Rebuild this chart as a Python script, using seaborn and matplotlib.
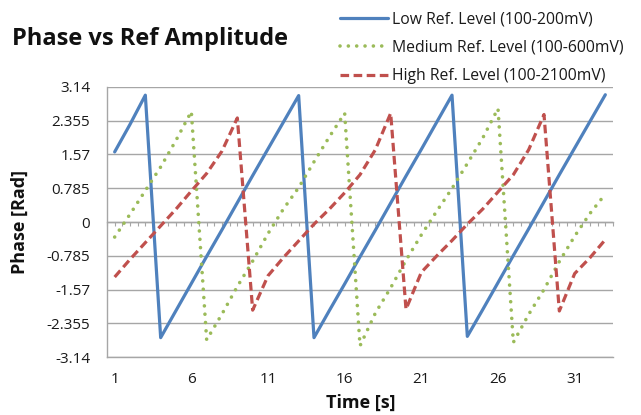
import matplotlib
matplotlib.use("Agg")
import numpy as np
import pandas as pd
import matplotlib.pyplot as plt
import seaborn as sns

# Measured phase (rad) per second for three reference amplitude ranges
time_s = list(range(1, 34))
low_ref = [1.63, 2.27, 2.95, -2.69, -2.06, -1.43, -0.80, -0.18, 0.45, 1.08, 1.70,
           2.32, 2.94, -2.69, -2.06, -1.44, -0.81, -0.19, 0.44, 1.07, 1.69, 2.32,
           2.95, -2.66, -2.04, -1.41, -0.78, -0.16, 0.47, 1.10, 1.72, 2.34, 2.96]
medium_ref = [-0.35, 0.18, 0.73, 1.28, 1.90, 2.57, -2.74, -2.14, -1.50, -0.91, -0.27,
              0.30, 0.80, 1.40, 1.98, 2.53, -2.88, -2.12, -1.53, -0.89, -0.30, 0.25,
              0.78, 1.36, 1.95, 2.64, -2.80, -2.15, -1.57, -0.92, -0.33, 0.20, 0.65]
high_ref = [-1.28, -0.87, -0.48, -0.09, 0.30, 0.72, 1.13, 1.65, 2.42, -2.05, -1.25,
            -0.83, -0.44, -0.05, 0.30, 0.68, 1.10, 1.68, 2.53, -2.03, -1.17, -0.79,
            -0.43, -0.05, 0.30, 0.70, 1.10, 1.68, 2.50, -2.07, -1.20, -0.83, -0.41]

series_names = ["Low Ref. Level (100-200mV)",
                "Medium Ref. Level (100-600mV)",
                "High Ref. Level (100-2100mV)"]
y_ticks = [3.14, 2.355, 1.57, 0.785, 0, -0.785, -1.57, -2.355, -3.14]
y_tick_labels = ["3.14", "2.355", "1.57", "0.785", "0",
                 "-0.785", "-1.57", "-2.355", "-3.14"]
x_ticks = [1, 6, 11, 16, 21, 26, 31]

sns.set_theme(style="white")
plt.rcParams['font.family'] = ['Open Sans', 'DejaVu Sans']

W, H = 641, 415
fig = plt.figure(figsize=(W / 100, H / 100), dpi=100)
left, right, top, bottom = 107, 613, 87, 357
ax = fig.add_axes([left / W, 1 - bottom / H, (right - left) / W, (bottom - top) / H])

df = pd.DataFrame({
    "Time": time_s * 3,
    "Phase": low_ref + medium_ref + high_ref,
    "Series": [name for name in series_names for _ in time_s],
})
palette = dict(zip(series_names, ["#4F81BD", "#9BBB59", "#C0504D"]))
dashes = dict(zip(series_names, ["", (0.01, 2.3), (2.7, 1.4)]))

sns.lineplot(data=df, x="Time", y="Phase", hue="Series", style="Series",
             hue_order=series_names, style_order=series_names,
             palette=palette, dashes=dashes, linewidth=2.3, ax=ax, legend=False)

series_lines = ax.lines[:3]
series_lines[0].set_solid_capstyle('round')
series_lines[1].set_dash_capstyle('round')
series_lines[1].set_linewidth(2.6)
series_lines[2].set_dash_capstyle('butt')

ax.set_xlim(0.5, 33.5)
ax.set_ylim(-3.14, 3.14)
ax.set_yticks(y_ticks)
ax.set_yticklabels(y_tick_labels)
ax.set_xticks(x_ticks)
ax.set_xticklabels([str(t) for t in x_ticks])
ax.tick_params(axis='both', length=0, labelsize=11, colors='#1a1a1a')
ax.tick_params(axis='y', pad=12)
ax.tick_params(axis='x', pad=11)

ax.grid(axis='y', color='#A6A6A6', linewidth=1)
ax.grid(axis='x', visible=False)
for side in ('top', 'right'):
    ax.spines[side].set_visible(False)
for side in ('left', 'bottom'):
    ax.spines[side].set_color('#A6A6A6')
    ax.spines[side].set_linewidth(1)

# Category axis crossing at zero, with small tick marks between categories
cat_axis = ax.secondary_xaxis(0.5)
cat_axis.set_xticks(np.arange(0.5, 33.6, 0.5))
cat_axis.tick_params(axis='x', direction='in', length=3, width=0.8,
                     color='#A6A6A6', labelbottom=False, labeltop=False)
for sp in cat_axis.spines.values():
    sp.set_color('#A6A6A6')
    sp.set_linewidth(1)

ax.set_ylabel("Phase [Rad]", fontsize=13, fontweight='bold', color='#111111',
              va='center')
ax.set_xlabel("Time [s]", fontsize=13, fontweight='bold', color='#111111',
              va='center')
ax.yaxis.set_label_coords((20 - left) / (right - left), (bottom - 222) / (bottom - top))
ax.xaxis.set_label_coords((361 - left) / (right - left), (bottom - 403) / (bottom - top))

fig.text(12 / W, 1 - 45 / H, "Phase vs Ref Amplitude", fontsize=17,
         fontweight='bold', ha='left', va='baseline', color='#111111')

fig.legend(series_lines, series_names, loc='upper left',
           bbox_to_anchor=(340 / W, 1 - 11 / H), frameon=False, fontsize=11.3,
           handlelength=3.05, handletextpad=0.25, labelspacing=0.8,
           borderpad=0, borderaxespad=0, labelcolor='#1a1a1a')

fig.savefig("out.png", dpi=100, facecolor='white')
